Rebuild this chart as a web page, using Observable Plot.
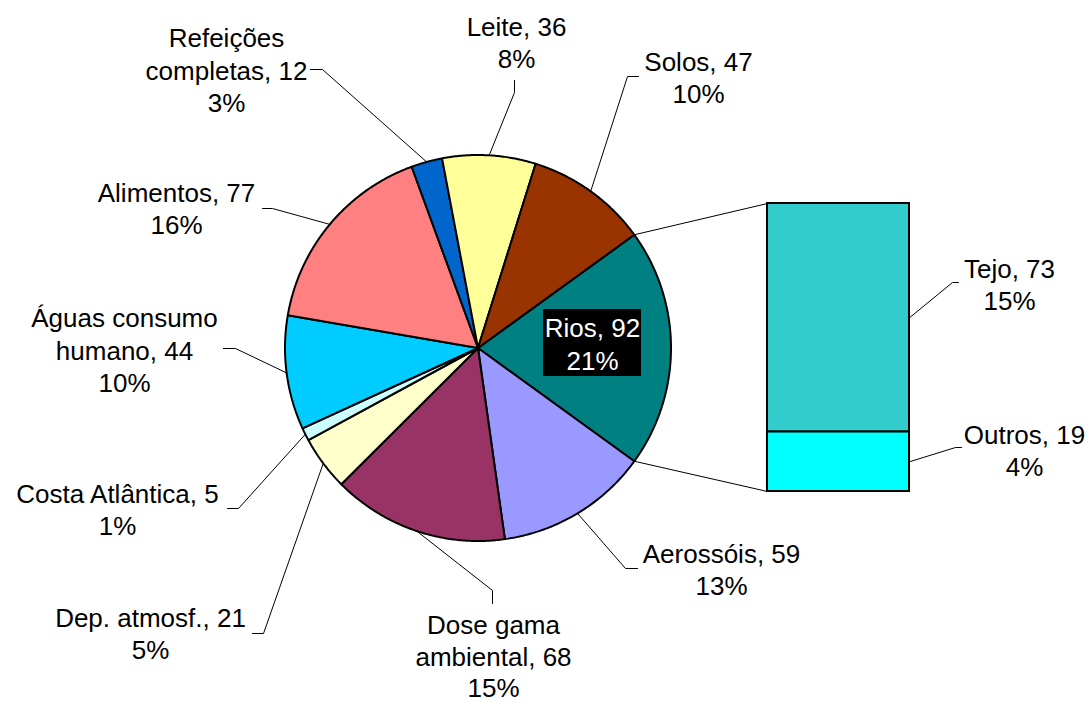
<!DOCTYPE html>
<html>
<head>
<meta charset="utf-8">
<script src="https://cdn.jsdelivr.net/npm/d3@7"></script>
<script src="https://cdn.jsdelivr.net/npm/@observablehq/plot@0.6"></script>
<style>
  html, body { margin: 0; padding: 0; background: #fff; overflow: hidden; }
</style>
</head>
<body>
<div id="chart"></div>
<script>
// Samples per monitoring type (pie), clockwise starting from "Rios"
const categories = ["Rios", "Aerossóis", "Dose gama ambiental", "Dep. atmosf.", "Costa Atlântica",
  "Águas consumo humano", "Alimentos", "Refeições completas", "Leite", "Solos"];
const values = [92, 59, 68, 21, 5, 44, 77, 12, 36, 47];
const percents = ["21%", "13%", "15%", "5%", "1%", "10%", "16%", "3%", "8%", "10%"];

// Breakdown of "Rios" (bar), top to bottom
const riverCategories = ["Tejo", "Outros"];
const riverValues = [73, 19];
const riverPercents = ["15%", "4%"];

// Fill colours
const sliceColors = ["#008080", "#9999FF", "#993366", "#FFFFCC", "#CCFFFF",
  "#00CCFF", "#FF8080", "#0066CC", "#FFFF99", "#993300"];
const riverColors = ["#33CCCC", "#00FFFF"];

// ---- layout (pixel space) ----
const W = 1090, H = 702;
const pie = {cx: 477.5, cy: 347.5, r: 193};
const bar = {x1: 767, x2: 909, y1: 203, y2: 491};
const FONT = "'Liberation Sans', Arial, Helvetica, sans-serif";
const FONT_SIZE = 26;

const wrapped = {
  "Refeições completas": "Refeições\ncompletas",
  "Águas consumo humano": "Águas consumo\nhumano",
  "Dose gama ambiental": "Dose gama\nambiental"
};

// label centre and leader line (start, elbow); the leader ends on its slice / segment
const labelLayout = {
  "Rios": {x: 592, y: 342.5},
  "Aerossóis": {x: 721, y: 568, leader: [[637, 568], [625, 568]]},
  "Dose gama ambiental": {x: 493, y: 655, lineHeight: 1.22, leader: [[492, 603], [492, 590]]},
  "Dep. atmosf.": {x: 150, y: 632, leader: [[252, 633], [263, 633]]},
  "Costa Atlântica": {x: 117, y: 508, leader: [[227, 508], [238, 508]]},
  "Águas consumo humano": {x: 124, y: 349, leader: [[223, 348], [235, 348]]},
  "Alimentos": {x: 176, y: 207, leader: [[262, 208], [272, 208]]},
  "Refeições completas": {x: 226, y: 69, leader: [[310, 69], [322, 69]]},
  "Leite": {x: 516, y: 41, leader: [[514, 80], [514, 92]]},
  "Solos": {x: 698, y: 76, leader: [[638, 76], [627, 76]]},
  "Tejo": {x: 1009, y: 283, leader: [[958, 282], [952, 282]]},
  "Outros": {x: 1024, y: 449, leader: [[961, 447], [955, 447]]}
};

// ---- geometry derived from the values ----
const total = d3.sum(values);
const rad = d => d * Math.PI / 180;
const half = Math.PI * values[0] / total;           // first slice centred at 3 o'clock
const start = rad(90) - half;
const arcs = d3.pie().sort(null).value(d => d.value)
  .startAngle(start).endAngle(start + 2 * Math.PI)(
    categories.map((name, i) => ({name, value: values[i], pct: percents[i], color: sliceColors[i]})));

const polar = (a, r = pie.r) => [pie.cx + r * Math.sin(a), pie.cy - r * Math.cos(a)];

const slicePoints = arcs.flatMap(a => {
  const n = Math.max(2, Math.ceil((a.endAngle - a.startAngle) / rad(0.5)));
  const pts = [{name: a.data.name, color: a.data.color, x: pie.cx, y: pie.cy}];
  for (let i = 0; i <= n; ++i) {
    const [x, y] = polar(a.startAngle + (a.endAngle - a.startAngle) * i / n);
    pts.push({name: a.data.name, color: a.data.color, x, y});
  }
  return pts;
});

// stacked bar segments
const k = (bar.y2 - bar.y1) / d3.sum(riverValues);
let acc = 0;
const segments = riverCategories.map((name, i) => {
  const y1 = bar.y1 + acc * k;
  acc += riverValues[i];
  return {name, value: riverValues[i], pct: riverPercents[i], color: riverColors[i],
    x1: bar.x1, x2: bar.x2, y1, y2: bar.y1 + acc * k};
});

// connectors from the split slice to the bar
const rios = arcs[0];
const connectors = [
  {p: polar(rios.startAngle), q: [bar.x1, bar.y1]},
  {p: polar(rios.endAngle), q: [bar.x1, bar.y2]}
];

// labels
const labels = [
  ...arcs.map(a => ({
    name: a.data.name,
    text: `${wrapped[a.data.name] ?? a.data.name}, ${a.data.value}\n${a.data.pct}`,
    anchor: polar((a.startAngle + a.endAngle) / 2)
  })),
  ...segments.map(s => ({
    name: s.name,
    text: `${s.name}, ${s.value}\n${s.pct}`,
    anchor: [s.x2, (s.y1 + s.y2) / 2]
  }))
].map(d => ({lineHeight: 1.25, ...d, ...labelLayout[d.name]}));

const leaderPoints = labels.filter(d => d.leader).flatMap(d =>
  [...d.leader, d.anchor].map(([x, y]) => ({name: d.name, x, y})));

const inside = labels.filter(d => d.name === "Rios");
const outside = labels.filter(d => d.name !== "Rios");

const textMarks = (data, fill) => d3.groups(data, d => d.lineHeight).map(([lh, rows]) =>
  Plot.text(rows, {
    x: "x", y: "y", text: "text", fill, fontSize: FONT_SIZE,
    lineHeight: lh, textAnchor: "middle", lineAnchor: "middle", fontFamily: FONT
  }));

const chart = Plot.plot({
  width: W,
  height: H,
  margin: 0,
  x: {type: "linear", domain: [0, W], range: [0, W], axis: null},
  y: {type: "linear", domain: [0, H], range: [0, H], axis: null},
  color: {type: "identity"},
  style: {background: "#fff", fontFamily: FONT},
  marks: [
    // pie slices
    Plot.line(slicePoints, {
      x: "x", y: "y", z: "name", fill: "color", stroke: "#000", strokeWidth: 2,
      strokeLinejoin: "miter", curve: "linear-closed"
    }),
    // split connectors
    Plot.link(connectors, {
      x1: d => d.p[0], y1: d => d.p[1], x2: d => d.q[0], y2: d => d.q[1],
      stroke: "#000", strokeWidth: 1
    }),
    // bar of "Rios"
    Plot.rect(segments, {
      x1: "x1", x2: "x2", y1: "y1", y2: "y2", fill: "color",
      stroke: "#000", strokeWidth: 2, inset: 0
    }),
    // leader lines
    Plot.line(leaderPoints, {x: "x", y: "y", z: "name", stroke: "#000", strokeWidth: 1, strokeLinejoin: "miter"}),
    // dark box behind the inside label
    Plot.rect(inside, {
      x1: d => d.x - 49, x2: d => d.x + 49, y1: d => d.y - 33.5, y2: d => d.y + 33.5,
      fill: "#000"
    }),
    ...textMarks(inside, "#fff"),
    ...textMarks(outside, "#000")
  ]
});

document.getElementById("chart").append(chart);
</script>
</body>
</html>
